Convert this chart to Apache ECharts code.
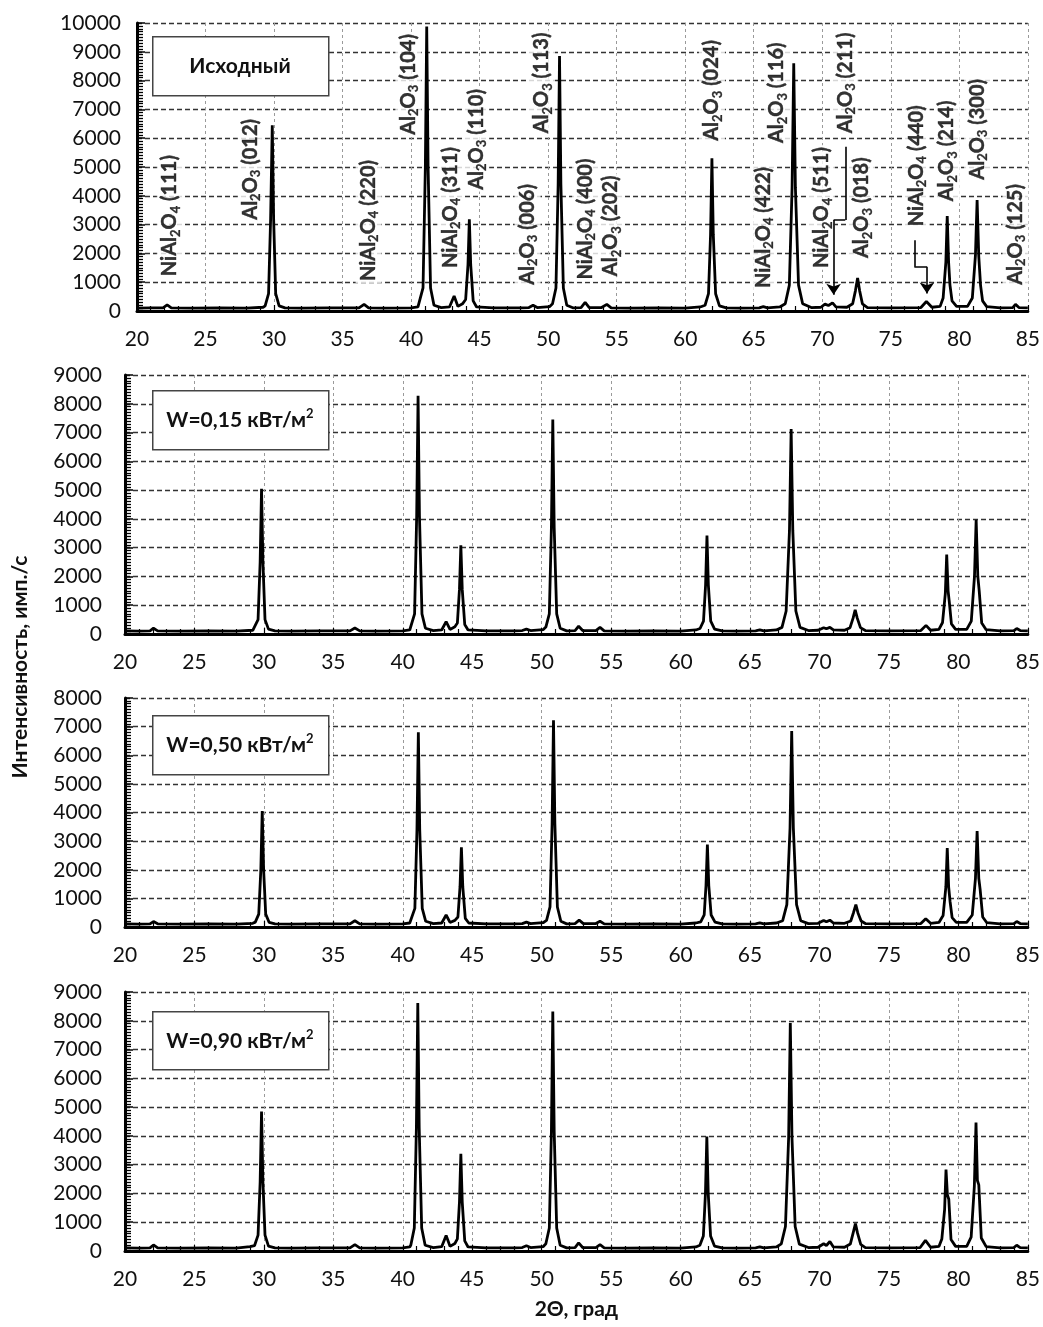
<!DOCTYPE html>
<html><head><meta charset="utf-8">
<script src="https://cdn.jsdelivr.net/npm/echarts@6/dist/echarts.min.js"></script>
<style>html,body{margin:0;padding:0;background:#fff}#c{width:1043px;height:1327px}</style>
</head><body><div id="c"></div>
<script>
// ---------- DATA ----------
const xTicks = [20, 25, 30, 35, 40, 45, 50, 55, 60, 65, 70, 75, 80, 85];
const panelYMax = [10000, 9000, 8000, 9000];
const panelTitles = [['Исходный', ''], ['W=0,15 кВт/м', '2'], ['W=0,50 кВт/м', '2'], ['W=0,90 кВт/м', '2']];

// Исходный
const spectrumInitial = [
[20,100],[21,110],[21.9,110],[22.2,210],[22.5,110],[24,100],[26,110],[28,100],[29.2,130],
[29.35,180],[29.6,600],[29.75,3200],[29.87,6450],[29.97,3200],[30.12,600],[30.37,180],
[30.8,110],[32,100],[34,110],[36.2,110],[36.57,230],[36.9,110],[38,100],[40,110],[40.5,140],
[40.62,200],[40.87,800],[41.04,5000],[41.14,9880],[41.24,5000],[41.42,800],[41.67,200],
[42.2,120],[42.8,140],[43.14,520],[43.42,160],[43.75,250],
[43.98,400],[44.15,1600],[44.25,3180],[44.35,1600],[44.53,350],[44.78,140],
[46,110],[48,110],[48.6,120],[48.9,200],[49.2,120],[50.1,150],
[50.32,250],[50.57,800],[50.73,4400],[50.83,8850],[50.93,4400],[51.11,800],[51.36,200],
[51.8,110],[52.4,120],[52.7,300],[53,120],[53.9,120],[54.28,230],[54.6,110],[56,100],[58,110],[60,100],[61.1,140],
[61.45,200],[61.7,600],[61.85,2650],[61.95,5300],[62.05,2650],[62.22,600],[62.5,180],
[63,110],[64,100],[65.4,110],[65.7,150],[66,110],[66.9,140],
[67.3,250],[67.6,900],[67.8,4300],[67.92,8600],[68.04,4300],[68.27,900],[68.57,250],
[69.2,120],[69.9,130],[70.2,240],[70.45,190],[70.75,280],[71.0,140],[71.8,130],
[72.22,250],[72.42,700],[72.58,1150],[72.73,700],[72.93,250],[73.3,120],
[75,110],[77.2,120],[77.6,330],[78,130],[78.6,160],
[78.82,450],[79.02,1700],[79.12,3300],[79.22,1700],[79.32,900],[79.47,350],[79.8,160],[80.6,160],
[80.95,450],[81.18,1950],[81.3,3850],[81.42,1900],[81.55,900],[81.7,350],[82.0,150],
[83,110],[83.9,120],[84.1,230],[84.35,120],[85,110]
];

// W=0,15
const spectrumW015 = [
[20,110],[21,100],[21.8,110],[22.05,200],[22.35,110],[24,100],[26,110],[28,100],[29.2,130],
[29.33,180],[29.58,500],[29.73,2500],[29.83,5050],[29.93,2500],[30.08,500],[30.33,170],
[30.8,110],[32,100],[34,110],[36.2,110],[36.55,210],[36.9,110],[38,100],[40,110],[40.5,140],
[40.6,200],[40.85,700],[41.0,4100],[41.1,8280],[41.2,4100],[41.38,700],[41.63,200],
[42.2,120],[42.8,140],[43.12,430],[43.4,160],[43.75,250],
[43.93,380],[44.08,1550],[44.18,3080],[44.28,1550],[44.46,330],[44.7,140],
[46,110],[48,110],[48.6,120],[48.9,170],[49.2,120],[50.1,150],
[50.3,240],[50.55,700],[50.7,3700],[50.8,7450],[50.9,3700],[51.08,700],[51.33,200],
[51.8,110],[52.4,120],[52.66,270],[52.95,120],[53.9,120],[54.2,230],[54.5,110],[56,100],[58,110],[60,100],[61.1,140],
[61.4,190],[61.65,450],[61.8,1700],[61.9,3420],[62.0,1700],[62.17,450],[62.45,170],
[63,110],[64,100],[65.4,110],[65.7,140],[66,110],[66.9,140],
[67.3,230],[67.6,800],[67.84,3600],[67.96,7120],[68.08,3600],[68.3,800],[68.6,230],
[69.2,120],[69.9,130],[70.3,220],[70.5,180],[70.75,230],[71.0,140],[71.8,130],
[72.2,220],[72.42,550],[72.57,840],[72.72,550],[72.95,220],[73.3,120],
[75,110],[77.3,120],[77.67,300],[78,130],[78.6,160],
[78.86,400],[79.06,1400],[79.16,2760],[79.26,1500],[79.35,1100],[79.5,350],[79.8,160],[80.6,160],
[80.93,450],[81.16,2000],[81.28,3970],[81.4,2000],[81.5,1500],[81.68,380],[82.0,150],
[83,110],[84.0,120],[84.2,190],[84.45,120],[85,110]
];

// W=0,50
const spectrumW050 = [
[20,110],[21,100],[21.8,110],[22.05,190],[22.35,110],[24,100],[26,110],[28,100],[29.2,130],
[29.38,170],[29.63,450],[29.78,2000],[29.88,4050],[29.98,2000],[30.13,450],[30.38,160],
[30.8,110],[32,100],[34,110],[36.2,110],[36.55,220],[36.9,110],[38,100],[40,110],[40.5,140],
[40.62,200],[40.87,650],[41.02,3400],[41.12,6800],[41.22,3400],[41.4,650],[41.65,200],
[42.2,120],[42.8,140],[43.12,420],[43.4,160],[43.75,230],
[43.97,350],[44.12,1400],[44.22,2780],[44.32,1400],[44.5,300],[44.75,140],
[46,110],[48,110],[48.6,120],[48.9,170],[49.2,120],[50.1,150],
[50.35,230],[50.6,700],[50.75,3600],[50.85,7220],[50.95,3600],[51.13,700],[51.38,200],
[51.8,110],[52.4,120],[52.7,240],[53,120],[53.9,120],[54.2,200],[54.5,110],[56,100],[58,110],[60,100],[61.1,140],
[61.45,180],[61.7,420],[61.83,1450],[61.93,2880],[62.03,1450],[62.2,420],[62.48,170],
[63,110],[64,100],[65.4,110],[65.7,140],[66,110],[66.9,140],
[67.35,220],[67.65,780],[67.88,3450],[68.0,6850],[68.12,3450],[68.35,780],[68.65,220],
[69.2,120],[69.9,130],[70.3,230],[70.5,180],[70.75,240],[71.0,140],[71.8,130],
[72.25,210],[72.45,500],[72.62,780],[72.77,500],[73.0,210],[73.3,120],
[75,110],[77.3,120],[77.65,290],[78,130],[78.6,160],
[78.9,400],[79.1,1400],[79.2,2760],[79.3,1400],[79.4,900],[79.55,330],[79.85,160],[80.6,160],
[81.0,420],[81.23,1700],[81.35,3350],[81.47,1700],[81.57,1300],[81.75,350],[82.05,150],
[83,110],[84.0,120],[84.2,190],[84.45,120],[85,110]
];

// W=0,90
const spectrumW090 = [
[20,110],[21,100],[21.8,110],[22.05,210],[22.35,110],[24,100],[26,110],[28,100],[29.0,150],
[29.33,190],[29.58,550],[29.73,2400],[29.83,4850],[29.93,2400],[30.08,550],[30.33,170],
[30.8,110],[32,100],[34,110],[36.2,110],[36.55,220],[36.9,110],[38,100],[40,110],[40.5,140],
[40.58,210],[40.83,800],[40.98,4300],[41.08,8620],[41.18,4300],[41.36,800],[41.61,200],
[42.2,120],[42.8,150],[43.12,540],[43.4,160],[43.75,260],
[43.93,420],[44.08,1700],[44.18,3380],[44.28,1700],[44.46,350],[44.7,140],
[46,110],[48,110],[48.6,120],[48.9,180],[49.2,120],[50.1,150],
[50.3,250],[50.55,800],[50.7,4150],[50.8,8320],[50.9,4150],[51.08,800],[51.33,200],
[51.8,110],[52.4,120],[52.66,280],[52.95,120],[53.9,120],[54.2,220],[54.5,110],[56,100],[58,110],[60,100],[61.1,140],
[61.39,200],[61.64,520],[61.79,2000],[61.89,3980],[61.99,2000],[62.16,520],[62.44,170],
[63,110],[64,100],[65.4,110],[65.7,140],[66,110],[66.9,140],
[67.25,250],[67.55,850],[67.78,3950],[67.9,7920],[68.02,3950],[68.25,850],[68.55,240],
[69.2,120],[69.9,130],[70.3,250],[70.5,190],[70.75,330],[71.0,140],[71.8,130],
[72.22,240],[72.42,620],[72.59,950],[72.74,620],[72.97,230],[73.3,120],
[75,110],[77.25,120],[77.63,370],[78,130],[78.6,160],
[78.81,420],[79.01,1450],[79.11,2830],[79.21,1950],[79.31,1800],[79.47,400],[79.8,160],[80.6,160],
[80.92,480],[81.15,2250],[81.27,4460],[81.37,2450],[81.47,2300],[81.65,450],[82.0,150],
[83,110],[84.0,120],[84.2,200],[84.45,120],[85,110]
];

const spectra = [spectrumInitial, spectrumW015, spectrumW050, spectrumW090];

// Peak annotations (top panel): phase, hkl, x of label, y where label starts
const labelPhase = ['NiAl2O4','Al2O3','NiAl2O4','Al2O3','NiAl2O4','Al2O3','Al2O3','Al2O3','NiAl2O4','Al2O3',
                    'Al2O3','NiAl2O4','Al2O3','NiAl2O4','Al2O3','Al2O3','NiAl2O4','Al2O3','Al2O3','Al2O3'];
const labelHkl = ['(111)','(012)','(220)','(104)','(311)','(110)','(006)','(113)','(400)','(202)',
                  '(024)','(422)','(116)','(511)','(211)','(018)','(440)','(214)','(300)','(125)'];
const labelX = [22.4, 28.3, 36.9, 39.8, 42.85, 44.75, 48.5, 49.55, 52.7, 54.58,
                61.95, 65.7, 66.7, 69.97, 71.68, 72.9, 76.9, 79.1, 81.3, 84.1];
const labelY = [1140, 3100, 970, 6050, 1420, 4140, 840, 6100, 1020, 1140,
                5840, 730, 5760, 1420, 6100, 1770, 2870, 3740, 4490, 840];

// Pointer arrows (top panel)
const arrow211 = [[71.68, 5700], [71.68, 3160], [70.83, 3160], [70.83, 560]];
const arrow440 = [[76.72, 2460], [76.72, 1540], [77.64, 1540], [77.64, 610]];

// ---------- CHART ----------
const FONT = 'Lato';
const chart = echarts.init(document.getElementById('c'), null, {renderer: 'canvas'});

const grids = [
  {left: 137, top: 23, width: 892, height: 288},
  {left: 125, top: 375, width: 904, height: 259},
  {left: 125, top: 698, width: 904, height: 229},
  {left: 125, top: 992, width: 904, height: 259}
];
const yLabelMargin = [16, 23, 23, 23];

const xAxes = grids.map((g, i) => ({
  type: 'value', gridIndex: i, min: xTicks[0], max: xTicks[xTicks.length - 1], interval: 5,
  axisLine: {show: true, onZero: false, lineStyle: {color: '#000', width: 3}},
  axisTick: {show: true, inside: true, length: 6, lineStyle: {color: '#000', width: 1.2}},
  minorTick: {show: true, splitNumber: 5, length: 5, lineStyle: {color: '#000', width: 1.2}},
  axisLabel: {fontFamily: FONT, fontSize: 21, color: '#111', margin: 18, formatter: v => String(v)},
  splitLine: {show: true, lineStyle: {color: '#9a9a9a', type: [3, 3], width: 1}},
  name: i === 3 ? '2Θ, град' : '',
  nameLocation: 'middle', nameGap: 48,
  nameTextStyle: {fontFamily: FONT, fontSize: 21, fontWeight: 'bold', color: '#111'}
}));
const yAxes = grids.map((g, i) => ({
  type: 'value', gridIndex: i, min: 0, max: panelYMax[i], interval: 1000,
  axisLine: {show: true, onZero: false, lineStyle: {color: '#000', width: 3}},
  axisTick: {show: true, inside: true, length: 8, lineStyle: {color: '#000', width: 1.5}},
  minorTick: {show: true, splitNumber: 10, length: 6, lineStyle: {color: '#000', width: 1.3}},
  axisLabel: {fontFamily: FONT, fontSize: 21, color: '#111', margin: yLabelMargin[i], formatter: v => String(v)},
  splitLine: {show: true, lineStyle: {color: '#333', type: [5, 3], width: 1.3}}
}));

const series = spectra.map((d, i) => ({
  type: 'line', xAxisIndex: i, yAxisIndex: i, data: d,
  symbol: 'none', showSymbol: false,
  lineStyle: {color: '#000', width: 2.8}, z: 3
}));

function richLabel(phase, hkl) {
  if (phase === 'Al2O3') return '{n|Al}{s|2}{n|O}{s|3}{n| ' + hkl + '}';
  return '{n|NiAl}{s|2}{n|O}{s|4}{n| ' + hkl + '}';
}

series.push({
  type: 'scatter', xAxisIndex: 0, yAxisIndex: 0, symbolSize: 1,
  itemStyle: {color: 'rgba(0,0,0,0)'}, z: 5, silent: true,
  data: labelX.map((x, k) => [x, labelY[k]]),
  label: {
    show: true, position: 'inside', rotate: 90, align: 'left', verticalAlign: 'middle',
    fontFamily: FONT, fontWeight: 'bold', fontSize: 20, color: '#000',
    textBorderColor: '#000', textBorderWidth: 0.4,
    backgroundColor: '#fff', padding: [1, 2, 1, 2],
    formatter: p => richLabel(labelPhase[p.dataIndex], labelHkl[p.dataIndex]),
    rich: {
      n: {fontFamily: FONT, fontWeight: 'bold', fontSize: 20, lineHeight: 24, color: '#000', textBorderColor: '#000', textBorderWidth: 0.4},
      s: {fontFamily: FONT, fontWeight: 'bold', fontSize: 13, lineHeight: 13, verticalAlign: 'bottom', color: '#000', textBorderColor: '#000', textBorderWidth: 0.3}
    }
  }
});

function segments(pts) {
  const out = [];
  for (let k = 0; k < pts.length - 1; k++) out.push({coords: [pts[k], pts[k + 1]]});
  return out;
}
const plainSegs = segments(arrow211).slice(0, 2).concat(segments(arrow440).slice(0, 2));
const arrowSegs = segments(arrow211).slice(2).concat(segments(arrow440).slice(2));
series.push({
  type: 'lines', coordinateSystem: 'cartesian2d', xAxisIndex: 0, yAxisIndex: 0,
  symbol: ['none', 'none'], lineStyle: {color: '#000', width: 1.6, opacity: 1, curveness: 0},
  data: plainSegs, z: 6, silent: true
});
series.push({
  type: 'lines', coordinateSystem: 'cartesian2d', xAxisIndex: 0, yAxisIndex: 0,
  symbol: ['none', 'arrow'], symbolSize: [8, 11],
  lineStyle: {color: '#000', width: 1.6, opacity: 1, curveness: 0},
  data: arrowSegs, z: 6, silent: true
});

const boxes = [
  {x: 152, y: 36, w: 176, h: 59},
  {x: 152, y: 390, w: 176, h: 59},
  {x: 152, y: 715, w: 176, h: 59},
  {x: 152, y: 1011, w: 176, h: 58}
];
const graphics = [];
boxes.forEach((b, i) => {
  graphics.push({
    type: 'rect', left: b.x, top: b.y, z: 100,
    shape: {width: b.w, height: b.h},
    style: {fill: '#fff', stroke: '#444', lineWidth: 1.5}
  });
  const t = panelTitles[i];
  graphics.push({
    type: 'text', x: b.x + b.w / 2, y: b.y + b.h / 2 + 1, z: 101,
    style: {
      text: t[1] ? '{m|' + t[0] + '}{p|' + t[1] + '}' : '{m|' + t[0] + '}',
      align: 'center', verticalAlign: 'middle',
      rich: {
        m: {fontFamily: FONT, fontWeight: 'bold', fontSize: 21, lineHeight: 26, fill: '#111', color: '#111'},
        p: {fontFamily: FONT, fontWeight: 'bold', fontSize: 13, lineHeight: 14, verticalAlign: 'top', fill: '#111', color: '#111'}
      }
    }
  });
});
graphics.push({
  type: 'text', x: 20, y: 667, rotation: Math.PI / 2, z: 100,
  style: {
    text: 'Интенсивность, имп./с', align: 'center', verticalAlign: 'middle',
    fontFamily: FONT, fontWeight: 'bold', fontSize: 21, fill: '#111'
  }
});

chart.setOption({
  animation: false,
  backgroundColor: '#fff',
  grid: grids,
  xAxis: xAxes,
  yAxis: yAxes,
  series: series,
  graphic: graphics
});
</script>
</body></html>
